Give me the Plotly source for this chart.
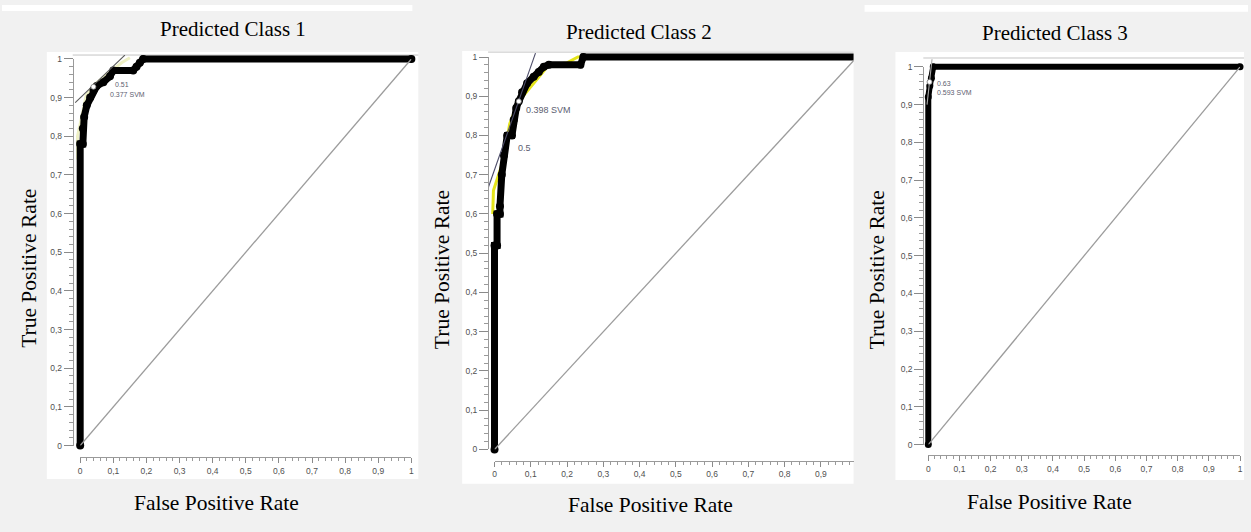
import plotly.graph_objects as go

W, H = 1251, 532

# ---------------- data ----------------
panel_titles = ["Predicted Class 1", "Predicted Class 2", "Predicted Class 3"]
x_axis_title = "False Positive Rate"
y_axis_title = "True Positive Rate"

tick_values = [0, 0.1, 0.2, 0.3, 0.4, 0.5, 0.6, 0.7, 0.8, 0.9, 1.0]
tick_labels = ["0", "0,1", "0,2", "0,3", "0,4", "0,5", "0,6", "0,7", "0,8", "0,9", "1"]

chance_fpr = [0, 1]
chance_tpr = [0, 1]

roc1_fpr = [0, 0, 0.008, 0.008, 0.012, 0.02, 0.03, 0.04, 0.05, 0.07, 0.09, 0.1, 0.16, 0.17, 0.18, 0.19, 1.0]
roc1_tpr = [0, 0.78, 0.78, 0.82, 0.85, 0.88, 0.9, 0.92, 0.93, 0.94, 0.955, 0.97, 0.97, 0.98, 0.99, 1.0, 1.0]

roc2_fpr = [0, 0, 0.007, 0.007, 0.015, 0.015, 0.02, 0.026, 0.035, 0.048, 0.053, 0.06, 0.067,
            0.076, 0.09, 0.108, 0.122, 0.136, 0.15, 0.237, 0.245, 1.0]
roc2_tpr = [0, 0.52, 0.52, 0.6, 0.6, 0.62, 0.7, 0.75, 0.8, 0.8, 0.84, 0.87, 0.887,
            0.91, 0.933, 0.95, 0.962, 0.975, 0.98, 0.98, 1.0, 1.0]

roc3_fpr = [0, 0, 0.005, 0.01, 0.016, 1.0]
roc3_tpr = [0, 0.92, 0.95, 0.97, 1.0, 1.0]

hull1_fpr = [-0.008, -0.008, 0.018, 0.045, 0.125, 0.15]
hull1_tpr = [0.74, 0.8, 0.905, 0.935, 0.99, 1.003]
hull2_fpr = [-0.005, -0.003, 0.022, 0.042, 0.067, 0.15, 0.2, 0.23, 0.24]
hull2_tpr = [0.6, 0.66, 0.73, 0.83, 0.887, 0.98, 0.985, 1.0, 1.0]

tan1_fpr = [-0.015, 0.135]
tan1_tpr = [0.887, 1.01]
tan2_fpr = [-0.02, 0.113]
tan2_tpr = [0.66, 1.01]
tan3_fpr = [-0.004, 0.012]
tan3_tpr = [0.9, 1.02]

op_fpr = [0.04, 0.067, 0.004]
op_tpr = [0.928, 0.887, 0.96]

thr_text = [["0.51", "0.377 SVM"], ["0.5", "0.398 SVM"], ["0.63", "0.593 SVM"]]
thr_fpr = [[0.1, 0.085], [0.058, 0.081], [0.022, 0.022]]
thr_tpr = [[0.934, 0.909], [0.7675, 0.866], [0.955, 0.931]]

rocs = [(roc1_fpr, roc1_tpr), (roc2_fpr, roc2_tpr), (roc3_fpr, roc3_tpr)]
hulls = [(hull1_fpr, hull1_tpr, "#eef0c4"), (hull2_fpr, hull2_tpr, "#e4e41a"), None]
tans = [(tan1_fpr, tan1_tpr, "#5a5a5a"), (tan2_fpr, tan2_tpr, "#4c4c68"), (tan3_fpr, tan3_tpr, "#a8a8a8")]

# ---------------- geometry (pixels) ----------------
# x0/x1: pixel of fpr 0/1, y0/y1: pixel of tpr 0/1; wl..wb: white picture area;
# ft: frame top; yl/xl: axis line positions; xcut: right clipping edge of axis
geo = [
    dict(x0=78.5, x1=411.0, y0=449.0, y1=55.0, wl=45, wr=418, wt=48, wb=483, ft=51, yl=71, xl=461, xcut=418,
         title=(232, 24), ytitle=(27, 268), xtitle=(215, 508), thr_size=7),
    dict(x0=494.5, x1=858.5, y0=453.0, y1=53.0, wl=462, wr=855, wt=47, wb=488, ft=48, yl=488, xl=465, xcut=855,
         title=(640, 28), ytitle=(442, 270), xtitle=(651, 510), thr_size=9),
    dict(x0=930.0, x1=1243.0, y0=448.0, y1=63.0, wl=897, wr=1247, wt=48, wb=484, ft=54, yl=925, xl=459, xcut=1247,
         title=(1057, 29), ytitle=(878, 270), xtitle=(1052, 507), thr_size=7),
]


def px(x):
    return x / W


def py(y):
    return 1 - y / H


fig = go.Figure()
layout = dict(
    width=W, height=H, margin=dict(l=0, r=0, t=0, b=0),
    paper_bgcolor="#f1f1f1", plot_bgcolor="rgba(0,0,0,0)",
    showlegend=False, shapes=[], annotations=[],
)

serif = "Liberation Serif, Times New Roman, serif"
sans = "Liberation Sans, Arial, sans-serif"

# thin white strips at top of picture
layout["shapes"].append(dict(type="rect", xref="paper", yref="paper", x0=0, x1=px(412), y0=py(6), y1=1,
                             fillcolor="white", line=dict(width=0), layer="below"))
layout["shapes"].append(dict(type="rect", xref="paper", yref="paper", x0=px(866), x1=1, y0=py(7), y1=1,
                             fillcolor="white", line=dict(width=0), layer="below"))

for i, g in enumerate(geo):
    d = i + 1          # data subplot
    a = i + 4          # axis subplot
    sx = g["x1"] - g["x0"]
    sy = g["y0"] - g["y1"]

    # white picture region
    layout["shapes"].append(dict(type="rect", xref="paper", yref="paper",
                                 x0=px(g["wl"]), x1=px(g["wr"]), y0=py(g["wb"]), y1=py(g["wt"]),
                                 fillcolor="white", line=dict(width=0), layer="below"))
    # frame top line
    layout["shapes"].append(dict(type="line", xref="paper", yref="paper",
                                 x0=px(g["yl"]), x1=px(g["wr"]), y0=py(g["ft"]), y1=py(g["ft"]),
                                 line=dict(color="#c4c4c4", width=1), layer="below"))

    # data subplot (hidden axes) covering the picture area
    layout[f"xaxis{d}"] = dict(domain=[px(g["yl"] + 1), px(g["wr"])],
                               range=[(g["yl"] + 1 - g["x0"]) / sx, (g["wr"] - g["x0"]) / sx],
                               visible=False, fixedrange=True, anchor=f"y{d}")
    layout[f"yaxis{d}"] = dict(domain=[py(g["xl"] - 1), py(g["ft"])],
                               range=[(g["y0"] - (g["xl"] - 1)) / sy, (g["y0"] - g["ft"]) / sy],
                               visible=False, fixedrange=True, anchor=f"x{d}")

    # axis subplot spanning exactly the 0..1 data range
    xr = min(g["x1"], g["xcut"])
    layout[f"xaxis{a}"] = dict(
        domain=[px(g["x0"]), px(xr)], range=[0, (xr - g["x0"]) / sx + 1e-6],
        anchor="free", position=py(g["xl"]),
        showline=True, linecolor="#9a9a9a", linewidth=1,
        showgrid=False, zeroline=False,
        tickmode="array", tickvals=tick_values, ticktext=tick_labels,
        ticks="outside", ticklen=5, tickcolor="#8a8a8a", tickwidth=1,
        minor=dict(tickmode="linear", tick0=0, dtick=0.02, ticks="outside", ticklen=3,
                   tickcolor="#9a9a9a", tickwidth=1),
        tickfont=dict(family=sans, size=8.5, color="#505050"),
        fixedrange=True,
    )
    layout[f"yaxis{a}"] = dict(
        domain=[py(g["y0"]), py(g["y1"])], range=[0, 1],
        anchor="free", position=px(g["yl"]),
        showline=True, linecolor="#9a9a9a", linewidth=1,
        showgrid=False, zeroline=False,
        tickmode="array", tickvals=tick_values, ticktext=tick_labels,
        ticks="outside", ticklen=9, tickcolor="#8a8a8a", tickwidth=1,
        minor=dict(tickmode="linear", tick0=0, dtick=0.02, ticks="outside", ticklen=4,
                   tickcolor="#9a9a9a", tickwidth=1),
        tickfont=dict(family=sans, size=8.5, color="#505050"),
        fixedrange=True,
    )

    # chance diagonal on axis subplot
    fig.add_trace(go.Scatter(x=chance_fpr, y=chance_tpr, mode="lines",
                             line=dict(color="#9c9c9c", width=1.3),
                             xaxis=f"x{a}", yaxis=f"y{a}", hoverinfo="skip"))

    # hull (under curve)
    if hulls[i] is not None:
        hf, ht, hc = hulls[i]
        fig.add_trace(go.Scatter(x=hf, y=ht, mode="lines", line=dict(color=hc, width=3),
                                 xaxis=f"x{d}", yaxis=f"y{d}", hoverinfo="skip"))

    # ROC curve
    rf, rt = rocs[i]
    fig.add_trace(go.Scatter(x=rf, y=rt, mode="lines+markers",
                             line=dict(color="black", width=7 if i < 2 else 6),
                             marker=dict(color="black", size=8 if i < 2 else 7),
                             xaxis=f"x{d}", yaxis=f"y{d}", cliponaxis=False, hoverinfo="skip"))

    # tangent / iso-performance line
    tf, tt, tc = tans[i]
    fig.add_trace(go.Scatter(x=tf, y=tt, mode="lines", line=dict(color=tc, width=1.1),
                             xaxis=f"x{d}", yaxis=f"y{d}", hoverinfo="skip"))

    # operating point
    fig.add_trace(go.Scatter(x=[op_fpr[i]], y=[op_tpr[i]], mode="markers",
                             marker=dict(color="white", size=5, line=dict(color="#777", width=0.8)),
                             xaxis=f"x{d}", yaxis=f"y{d}", cliponaxis=False, hoverinfo="skip"))

    # threshold labels
    for t, xf, yt in zip(thr_text[i], thr_fpr[i], thr_tpr[i]):
        layout["annotations"].append(dict(
            text=t, x=xf, y=yt, xref=f"x{d}", yref=f"y{d}", xanchor="left", yanchor="middle",
            showarrow=False, font=dict(family=sans, size=g["thr_size"], color="#5c6070")))

    # titles
    layout["annotations"].append(dict(
        text=panel_titles[i], x=px(g["title"][0]), y=py(g["title"][1]), xref="paper", yref="paper",
        xanchor="center", yanchor="middle", showarrow=False,
        font=dict(family=serif, size=21, color="black")))
    layout["annotations"].append(dict(
        text=x_axis_title, x=px(g["xtitle"][0]), y=py(g["xtitle"][1]), xref="paper", yref="paper",
        xanchor="center", yanchor="middle", showarrow=False,
        font=dict(family=serif, size=21.5, color="black")))
    layout["annotations"].append(dict(
        text=y_axis_title, x=px(g["ytitle"][0]), y=py(g["ytitle"][1]), xref="paper", yref="paper",
        xanchor="center", yanchor="middle", showarrow=False, textangle=-90,
        font=dict(family=serif, size=21.5, color="black")))

fig.update_layout(**layout)
fig.write_html(
    "out.html",
    config={"displayModeBar": False, "staticPlot": True},
    post_script="document.body.style.margin='0';document.body.style.padding='0';"
                "document.documentElement.style.overflow='hidden';document.body.style.overflow='hidden';",
)
